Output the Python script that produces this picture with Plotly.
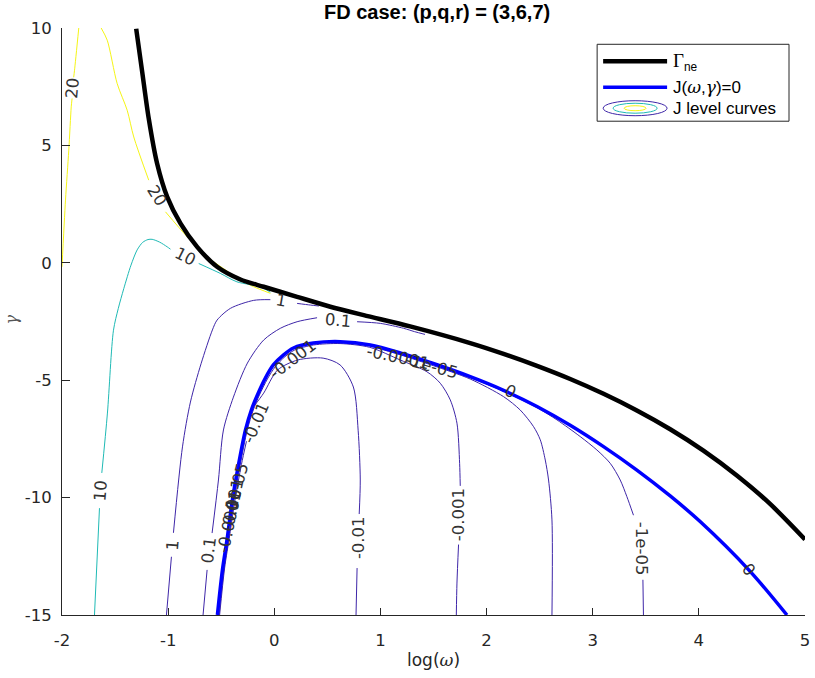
import plotly.graph_objects as go

# ---------------- data ----------------
# Gamma_ne curve
gne_x = [-1.301, -1.245, -1.183, -1.104, -1.009, -0.884, -0.727, -0.539, -0.319, -0.10, 0.215, 0.528, 0.842,
         1.28, 1.846, 2.160, 2.475, 2.788, 3.102, 3.416, 3.730, 4.043, 4.358, 4.671, 5.0]
gne_y = [9.97, 8.15, 6.15, 4.23, 2.81, 1.68, 0.68, -0.17, -0.71, -1.02, -1.45, -1.87, -2.23,
         -2.71, -3.42, -3.88, -4.39, -4.95, -5.58, -6.29, -7.09, -8.00, -9.06, -10.27, -11.78]

# J(omega, gamma) = 0 curve
j0_x = [-0.536, -0.489, -0.442, -0.395, -0.338, -0.272, -0.216, -0.159, -0.084, -0.009, 0.085, 0.180, 0.368,
        0.622, 0.905, 1.187, 1.498, 1.846, 2.160, 2.475, 2.788, 3.102, 3.416, 3.730, 4.012, 4.483, 4.830]
j0_y = [-15.0, -13.09, -11.69, -10.10, -8.62, -7.13, -6.27, -5.63, -4.91, -4.35, -3.93, -3.63, -3.42,
        -3.36, -3.50, -3.84, -4.29, -4.85, -5.43, -6.12, -6.92, -7.83, -8.83, -9.93, -11.02, -13.14, -15.0]

# J level curves (None = gap left for the inline label)
lev20a_x = [-2.0, -1.967, -1.936, -1.913, -1.905, None, -1.89, -1.882, -1.842]
lev20a_y = [-0.17, 2.67, 4.8, 6.64, 7.0, None, 7.9, 8.2, 10.0]
lev20b_x = [-1.631, -1.574, -1.480, -1.386, -1.324, -1.183, None, -1.025, -0.821, -0.633, -0.413, -0.319, -0.194, -0.037]
lev20b_y = [10.0, 9.48, 7.63, 6.50, 5.36, 3.52, None, 2.17, 1.11, 0.26, -0.45, -0.74, -1.02, -1.30]
lev10_x = [-1.694, -1.647, None, -1.625, -1.572, -1.515, -1.47, -1.418, -1.35, -1.292, -1.24, -1.19, -1.151,
           -1.08, -1.009, -0.978, None, -0.712, -0.509, -0.352, -0.131, -0.037]
lev10_y = [-15.0, -10.45, None, -8.95, -6.4, -2.87, -1.95, -1.1, -0.1, 0.55, 0.87, 0.99, 1.0,
           0.88, 0.68, 0.58, None, -0.03, -0.45, -0.81, -1.02, -1.25]
lev1_x = [-1.016, -0.969, None, -0.95, -0.865, -0.79, -0.69, -0.583, -0.539, -0.413, -0.194, -0.037, None,
          0.215, 0.34, 0.42]
lev1_y = [-15.0, -12.52, None, -11.50, -7.84, -5.93, -4.30, -2.86, -2.44, -1.94, -1.60, -1.57, None,
          -1.73, -1.80, -1.84]
lev01_x = [-0.671, -0.633, None, -0.586, -0.526, -0.479, -0.385, -0.253, -0.1, 0.057, 0.215, 0.403, None,
           0.78, 0.999, 1.219, 1.32, 1.42]
lev01_y = [-15.0, -13.08, None, -11.51, -9.25, -7.12, -5.72, -4.27, -3.29, -2.79, -2.51, -2.34, None,
           -2.51, -2.58, -2.79, -2.93, -3.05]
levm001_x = [-0.515, -0.468, -0.42, -0.37, -0.31, -0.262, None, -0.19, -0.10, 0.03, 0.22, 0.46, 0.62, 0.745,
             0.79, 0.81, 0.80, None, 0.78, 0.77]
levm001_y = [-15.0, -13.0, -11.6, -10.1, -8.6, -7.6, None, -6.1, -5.55, -4.57, -4.14, -4.06, -4.35, -5.29,
             -7.13, -9.25, -10.7, None, -13.0, -15.0]
levm0001_x = [-0.52, -0.475, -0.428, -0.38, -0.322, -0.255, -0.198, -0.14, -0.065, 0.01, 0.10, 0.19, 0.37, 0.62,
              0.9, 1.187, 1.438, 1.564, 1.658, 1.721, 1.746, 1.752, None, 1.736, 1.721, 1.715]
levm0001_y = [-15.0, -13.09, -11.69, -10.1, -8.62, -7.13, -6.27, -5.63, -4.95, -4.42, -4.0, -3.72, -3.5, -3.44,
              -3.6, -4.14, -4.64, -5.13, -5.84, -6.83, -8.54, -9.5, None, -12.0, -13.64, -15.0]
levm1e4_x = [0.9, 1.187, 1.498, 1.846, 2.16, 2.317, 2.443, 2.506, 2.553, 2.584, 2.616, 2.616]
levm1e4_y = [-3.54, -3.92, -4.38, -4.95, -5.70, -6.27, -6.98, -7.54, -8.40, -9.25, -10.95, -15.0]
levm1e5_x = [0.9, 1.187, 1.498, 1.846, 2.16, 2.475, 2.663, 2.882, 3.039, 3.165, 3.259, 3.322, 3.384, None, 3.473, 3.478]
levm1e5_y = [-3.52, -3.87, -4.32, -4.89, -5.47, -6.17, -6.69, -7.40, -7.97, -8.54, -9.25, -9.96, -10.75, None, -13.5, -15.0]

# inline contour labels
lab_text = ["20", "20", "10", "10", "1", "1", "0.1", "0.1", "-0.01", "-0.001", "-0.01", "-0.001", "-1e-05",
            "0", "0", "-0.0001", "-1e-05", "-0.0001", "1e-05", "-0.001"]
lab_x = [-1.898, -1.11, -0.84, -1.636, -0.96, 0.067, 0.604, -0.611, -0.169, 0.170, 0.792, 1.743, 3.466,
         2.223, 4.464, 1.168, 1.488, -0.425, -0.347, -0.39]
lab_y = [7.45, 2.85, 0.28, -9.7, -12.02, -1.60, -2.44, -12.23, -6.82, -4.10, -11.71, -10.74, -12.19,
         -5.50, -13.08, -4.05, -4.40, -11.0, -9.5, -10.3]
lab_ang = [-85, 58, 27, -85, -85, 10, 5, -83, -67, -37, -90, -90, 90,
           25, 50, 12, 15, -78, -75, -78]

tick_x = [-2, -1, 0, 1, 2, 3, 4, 5]
tick_y = [-15, -10, -5, 0, 5, 10]

# ---------------- style ----------------
C_LOW = "#3e26a8"
C_MID = "#1fbab5"
C_HIGH = "#f5f516"
SANS = "DejaVu Sans"
TXT = "#262626"

fig = go.Figure()

levels = [
    (lev20a_x, lev20a_y, C_HIGH), (lev20b_x, lev20b_y, C_HIGH), (lev10_x, lev10_y, C_MID),
    (lev1_x, lev1_y, C_LOW), (lev01_x, lev01_y, C_LOW), (levm001_x, levm001_y, C_LOW),
    (levm0001_x, levm0001_y, C_LOW), (levm1e4_x, levm1e4_y, C_LOW), (levm1e5_x, levm1e5_y, C_LOW),
]
for lx, ly, col in levels:
    fig.add_trace(go.Scatter(x=lx, y=ly, mode="lines", line=dict(color=col, width=1, shape="spline", smoothing=0.8),
                             showlegend=False, hoverinfo="skip", connectgaps=False))

fig.add_trace(go.Scatter(x=j0_x, y=j0_y, mode="lines", line=dict(color="#0000ff", width=3.5, shape="spline", smoothing=0.8),
                         showlegend=False, hoverinfo="skip"))
fig.add_trace(go.Scatter(x=gne_x, y=gne_y, mode="lines", line=dict(color="#000000", width=4.5, shape="spline", smoothing=0.8),
                         showlegend=False, hoverinfo="skip"))

ann = []
for t, x, y, a in zip(lab_text, lab_x, lab_y, lab_ang):
    ann.append(dict(x=x, y=y, xref="x", yref="y", text=t, showarrow=False, textangle=a,
                    font=dict(family=SANS, size=16.5, color="#333333"), xanchor="center", yanchor="middle"))

# pixel -> paper helpers for the hand-built legend and titles
L, R, T, B = 61.5, 805.0, 27.7, 615.3
def px(xp):
    return (xp - L) / (R - L)
def py(yp):
    return (B - yp) / (B - T)

ann.append(dict(x=px(437), y=py(12), xref="paper", yref="paper", text="<b>FD case: (p,q,r) = (3,6,7)</b>",
                showarrow=False, font=dict(family="Liberation Sans", size=20, color="#000000"),
                xanchor="center", yanchor="middle"))
ann.append(dict(x=px(433), y=py(660), xref="paper", yref="paper",
                text='log(<span style="font-family:DejaVu Serif"><i>ω</i></span>)',
                showarrow=False, font=dict(family=SANS, size=17, color=TXT), xanchor="center", yanchor="middle"))
ann.append(dict(x=px(10), y=py(320), xref="paper", yref="paper", text="<i>γ</i>", textangle=-90,
                showarrow=False, font=dict(family="DejaVu Serif", size=16, color="#555555"),
                xanchor="center", yanchor="middle"))

# legend texts
LEGF = dict(family="Liberation Sans", size=17, color="#000000")
ann.append(dict(x=px(671), y=py(62), xref="paper", yref="paper",
                text='<span style="font-family:Liberation Serif;font-size:19px">Γ</span><sub>ne</sub>',
                showarrow=False, font=LEGF, xanchor="left", yanchor="middle"))
ann.append(dict(x=px(671), y=py(87), xref="paper", yref="paper",
                text='J(<span style="font-family:DejaVu Serif"><i>ω</i></span>,<span style="font-family:DejaVu Serif"><i>γ</i></span>)=0',
                showarrow=False, font=LEGF, xanchor="left", yanchor="middle"))
ann.append(dict(x=px(671), y=py(108), xref="paper", yref="paper", text="J level curves",
                showarrow=False, font=LEGF, xanchor="left", yanchor="middle"))

shapes = [
    dict(type="rect", xref="paper", yref="paper", x0=px(597), x1=px(789), y0=py(121), y1=py(44),
         line=dict(color="#262626", width=1), fillcolor="white", layer="above"),
    dict(type="line", xref="paper", yref="paper", x0=px(603), x1=px(667), y0=py(61), y1=py(61),
         line=dict(color="#000000", width=4.5), layer="above"),
    dict(type="line", xref="paper", yref="paper", x0=px(603), x1=px(667), y0=py(87), y1=py(87),
         line=dict(color="#0000ff", width=3.5), layer="above"),
    dict(type="circle", xref="paper", yref="paper", x0=px(603), x1=px(667), y0=py(115.5), y1=py(100.5),
         line=dict(color=C_LOW, width=1), layer="above"),
    dict(type="circle", xref="paper", yref="paper", x0=px(613), x1=px(657), y0=py(113), y1=py(103),
         line=dict(color=C_MID, width=1), layer="above"),
    dict(type="circle", xref="paper", yref="paper", x0=px(624), x1=px(646), y0=py(110.5), y1=py(105.5),
         line=dict(color=C_HIGH, width=1), layer="above"),
]

fig.update_layout(
    width=815, height=678, margin=dict(l=62, r=10, t=28, b=63, autoexpand=False),
    plot_bgcolor="white", paper_bgcolor="white", showlegend=False,
    annotations=ann, shapes=shapes,
    xaxis=dict(range=[-2, 5], tickvals=tick_x, ticktext=[str(v) for v in tick_x], ticks="inside", ticklen=7,
               tickwidth=1, tickcolor=TXT, showline=True, linecolor=TXT, linewidth=1, showgrid=False,
               zeroline=False, tickfont=dict(family=SANS, size=16.5, color=TXT), ticklabelstandoff=10,
               automargin=False),
    yaxis=dict(range=[-15, 10], tickvals=tick_y, ticktext=[str(v) for v in tick_y], ticks="inside", ticklen=8,
               tickwidth=1, tickcolor=TXT, showline=True, linecolor=TXT, linewidth=1, showgrid=False,
               zeroline=False, tickfont=dict(family=SANS, size=16.5, color=TXT), ticklabelstandoff=6,
               automargin=False),
)

fig.write_html("out.html", config={"displayModeBar": False},
               post_script="document.body.style.margin='0';document.body.style.overflow='hidden';")
